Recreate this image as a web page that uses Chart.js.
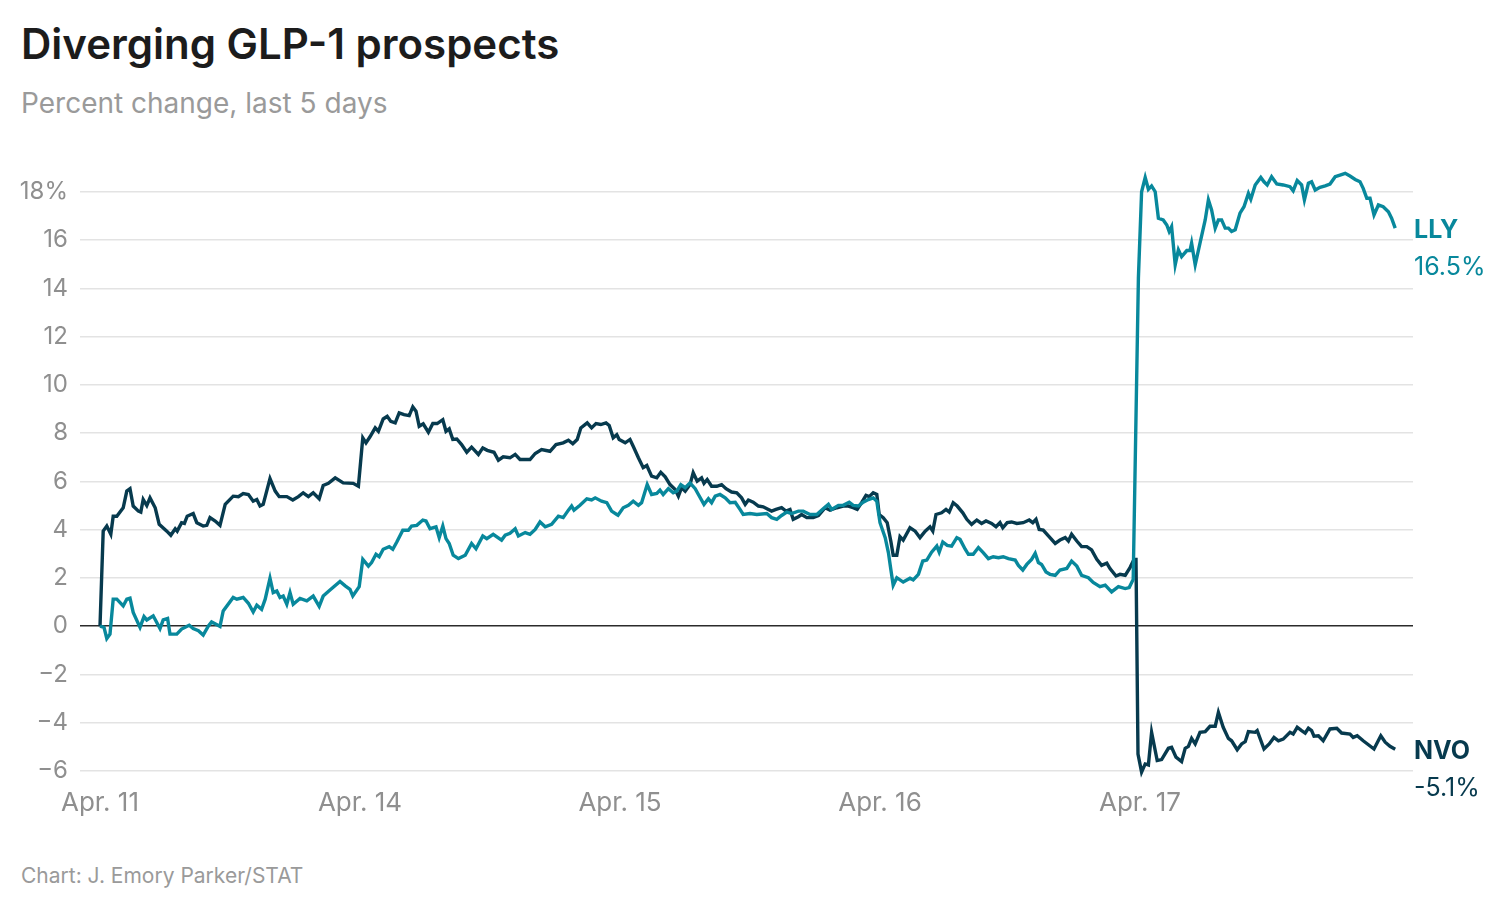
<!DOCTYPE html>
<html>
<head>
<meta charset="utf-8">
<script src="https://cdn.jsdelivr.net/npm/chart.js@4"></script>
<style>
  html, body { margin: 0; padding: 0; background: #fff; }
  body { width: 1506px; height: 912px; position: relative; overflow: hidden; font-family: Inter, "Noto Sans", sans-serif; }
  #title { position: absolute; left: 21px; top: 18px; font-size: 42px; font-weight: 600; color: #1c1c1c; letter-spacing: 0px; }
  #subtitle { position: absolute; left: 21px; top: 86px; font-size: 28px; color: #9a9a9a; }
  #credit { position: absolute; left: 21px; top: 863px; font-size: 21px; color: #9a9a9a; }
  canvas { position: absolute; left: 0; top: 0; }
</style>
</head>
<body>
<div id="title">Diverging GLP-1 prospects</div>
<div id="subtitle">Percent change, last 5 days</div>
<div id="credit">Chart: J. Emory Parker/STAT</div>
<canvas id="chart" width="1506" height="912"></canvas>
<script>
// x = trading hours since Apr. 11 open (6.5 h per session)
const dayLabels = ['Apr. 11', 'Apr. 14', 'Apr. 15', 'Apr. 16', 'Apr. 17'];
const dayStarts = [0, 6.5, 13, 19.5, 26];
const yTicks = [-6, -4, -2, 0, 2, 4, 6, 8, 10, 12, 14, 16, 18];

const seriesNames = ['LLY', 'NVO'];
const endLabels = ['16.5%', '-5.1%'];

const nvoHours = [
  0.00, 0.08, 0.17, 0.27, 0.33, 0.42, 0.58, 0.67, 0.75, 0.83, 0.96, 1.02, 1.08, 1.17, 1.25, 1.38, 1.48, 1.67, 1.77, 1.88,
  1.93, 2.04, 2.11, 2.18, 2.33, 2.42, 2.58, 2.67, 2.75, 2.88, 3.00, 3.13, 3.33, 3.46, 3.58, 3.71, 3.83, 3.92, 4.00, 4.08,
  4.25, 4.38, 4.48, 4.67, 4.82, 4.96, 5.08, 5.21, 5.33, 5.48, 5.58, 5.71, 5.88, 6.08, 6.33, 6.46,
  6.57, 6.65, 6.75, 6.88, 6.96, 7.08, 7.18, 7.27, 7.38, 7.48, 7.60, 7.73, 7.82, 7.90, 7.98, 8.08, 8.21, 8.32, 8.43, 8.57,
  8.65, 8.73, 8.82, 8.92, 9.04, 9.17, 9.29, 9.46, 9.57, 9.68, 9.85, 9.96, 10.08, 10.25, 10.38, 10.50, 10.63, 10.75, 10.88, 11.04,
  11.25, 11.40, 11.58, 11.71, 11.82, 11.93, 12.02, 12.18, 12.29, 12.40, 12.52, 12.65, 12.73, 12.83, 12.92, 12.98,
  13.13, 13.25, 13.33, 13.46, 13.58, 13.67, 13.79, 13.92, 14.02, 14.13, 14.25, 14.38, 14.46, 14.54, 14.63, 14.75, 14.83, 14.93, 15.04, 15.10,
  15.18, 15.29, 15.42, 15.54, 15.65, 15.79, 15.92, 16.04, 16.13, 16.21, 16.33, 16.46, 16.58, 16.71, 16.79, 16.90, 17.04, 17.15, 17.25, 17.33,
  17.46, 17.54, 17.67, 17.83, 17.96, 18.13, 18.25, 18.42, 18.58, 18.71, 18.83, 18.93, 19.04, 19.15, 19.23, 19.33, 19.42,
  19.48, 19.58, 19.68, 19.77, 19.83, 19.92, 20.00, 20.08, 20.25, 20.38, 20.50, 20.63, 20.75, 20.82, 20.90, 21.04, 21.15, 21.23, 21.33, 21.43,
  21.57, 21.67, 21.79, 21.92, 22.04, 22.15, 22.29, 22.40, 22.50, 22.57, 22.68, 22.79, 22.92, 23.08, 23.23, 23.32, 23.40, 23.48, 23.58, 23.71,
  23.88, 24.00, 24.13, 24.21, 24.29, 24.42, 24.54, 24.67, 24.79, 24.92, 25.04, 25.17, 25.25, 25.40, 25.50, 25.63, 25.75, 25.85, 25.90,
  25.95, 26.04, 26.13, 26.21, 26.29, 26.43, 26.54, 26.71, 26.79, 26.90, 27.04, 27.13, 27.21, 27.29, 27.38, 27.50, 27.63, 27.75, 27.88, 27.96,
  28.08, 28.21, 28.29, 28.43, 28.54, 28.63, 28.71, 28.88, 28.93, 29.10, 29.23, 29.35, 29.46, 29.58, 29.75, 29.83, 29.93, 30.04, 30.13, 30.21,
  30.29, 30.35, 30.46, 30.58, 30.75, 30.92, 31.04, 31.25, 31.33, 31.43, 31.58, 31.85, 32.02, 32.13, 32.25, 32.38
];
const nvoPct = [
  0, 3.94, 4.15, 3.81, 4.56, 4.56, 4.91, 5.60, 5.70, 4.98, 4.77, 4.73, 5.25, 5.00, 5.32, 4.91, 4.22, 3.94, 3.77, 4.04,
  3.94, 4.29, 4.26, 4.56, 4.67, 4.29, 4.15, 4.18, 4.50, 4.36, 4.18, 5.05, 5.39, 5.37, 5.50, 5.46, 5.18, 5.25, 4.98, 5.05,
  6.12, 5.60, 5.37, 5.37, 5.23, 5.37, 5.53, 5.37, 5.53, 5.28, 5.83, 5.92, 6.15, 5.94, 5.92, 5.80,
  7.81, 7.60, 7.85, 8.22, 8.08, 8.59, 8.70, 8.49, 8.43, 8.84, 8.77, 8.73, 9.09, 8.91, 8.29, 8.39, 8.04, 8.40, 8.40, 8.56,
  8.08, 8.18, 7.74, 7.76, 7.53, 7.21, 7.42, 7.12, 7.39, 7.29, 7.21, 6.88, 7.02, 6.98, 7.12, 6.91, 6.91, 6.91, 7.16, 7.32,
  7.25, 7.53, 7.60, 7.71, 7.56, 7.74, 8.22, 8.43, 8.22, 8.40, 8.36, 8.43, 8.32, 7.81, 7.94, 7.74,
  7.60, 7.74, 7.46, 6.98, 6.57, 6.66, 6.22, 6.15, 6.38, 6.19, 5.87, 5.67, 5.39, 5.74, 5.60, 5.87, 6.36, 6.01, 6.15, 5.92,
  6.08, 5.80, 5.80, 5.87, 5.70, 5.56, 5.53, 5.32, 5.05, 5.23, 5.14, 4.98, 4.95, 4.84, 4.77, 4.84, 4.91, 4.77, 4.84, 4.43,
  4.54, 4.63, 4.50, 4.50, 4.59, 4.91, 4.81, 4.91, 4.98, 4.98, 4.91, 4.84, 5.12, 5.42, 5.37, 5.53, 5.46,
  4.63, 4.50, 4.29, 3.53, 2.94, 2.94, 3.71, 3.57, 4.08, 3.94, 3.67, 3.94, 4.12, 3.94, 4.63, 4.70, 4.84, 4.73, 5.12, 4.98,
  4.70, 4.43, 4.22, 4.40, 4.26, 4.36, 4.26, 4.12, 4.29, 4.08, 4.29, 4.32, 4.26, 4.29, 4.40, 4.29, 4.43, 4.01, 3.98, 3.74,
  3.43, 3.57, 3.67, 3.53, 3.81, 3.53, 3.30, 3.30, 3.16, 2.77, 2.52, 2.61, 2.39, 2.08, 2.15, 2.11, 2.43, 2.77, 2.77,
  -5.30, -6.05, -5.71, -5.75, -4.40, -5.57, -5.53, -5.06, -5.02, -5.43, -5.61, -5.06, -4.98, -4.65, -4.88, -4.40, -4.37, -4.15, -4.15, -3.57,
  -4.19, -4.65, -4.75, -5.12, -4.88, -4.79, -4.37, -4.40, -4.33, -5.09, -4.88, -4.61, -4.75, -4.68, -4.40, -4.47, -4.19, -4.33, -4.43, -4.23,
  -4.33, -4.56, -4.54, -4.75, -4.26, -4.23, -4.43, -4.47, -4.61, -4.54, -4.75, -5.09, -4.54, -4.81, -4.98, -5.10
];

const llyHours = [
  0.00, 0.10, 0.17, 0.25, 0.33, 0.42, 0.58, 0.67, 0.75, 0.83, 1.00, 1.10, 1.17, 1.33, 1.50, 1.58, 1.69, 1.75, 1.92, 2.04,
  2.23, 2.33, 2.46, 2.58, 2.71, 2.79, 2.90, 3.00, 3.08, 3.33, 3.42, 3.58, 3.71, 3.83, 3.92, 4.04, 4.13, 4.25, 4.33, 4.42,
  4.50, 4.58, 4.67, 4.75, 4.83, 5.00, 5.17, 5.33, 5.48, 5.58, 5.75, 6.00, 6.13, 6.25, 6.32, 6.48,
  6.57, 6.71, 6.79, 6.90, 6.98, 7.08, 7.23, 7.32, 7.42, 7.57, 7.71, 7.79, 7.92, 8.07, 8.15, 8.25, 8.40, 8.48, 8.57, 8.65,
  8.73, 8.83, 8.96, 9.13, 9.29, 9.40, 9.57, 9.67, 9.83, 10.04, 10.13, 10.25, 10.38, 10.46, 10.63, 10.75, 10.88, 11.00, 11.13, 11.29,
  11.46, 11.58, 11.71, 11.79, 11.85, 12.00, 12.17, 12.29, 12.38, 12.54, 12.67, 12.79, 12.92, 12.95,
  13.08, 13.21, 13.33, 13.46, 13.54, 13.68, 13.79, 13.92, 14.00, 14.08, 14.21, 14.33, 14.42, 14.52, 14.63, 14.75, 14.88, 14.96, 15.10, 15.21,
  15.29, 15.38, 15.50, 15.63, 15.75, 15.88, 16.00, 16.08, 16.25, 16.42, 16.67, 16.79, 16.92, 17.04, 17.17, 17.29, 17.46, 17.58, 17.75, 17.92,
  18.08, 18.21, 18.29, 18.46, 18.58, 18.73, 18.83, 18.96, 19.08, 19.21, 19.33, 19.42,
  19.50, 19.63, 19.71, 19.77, 19.83, 19.92, 20.08, 20.25, 20.33, 20.46, 20.57, 20.67, 20.79, 20.92, 20.98, 21.07, 21.18, 21.29, 21.42, 21.50,
  21.63, 21.71, 21.83, 21.96, 22.08, 22.21, 22.33, 22.46, 22.58, 22.71, 22.88, 22.96, 23.07, 23.17, 23.29, 23.38, 23.46, 23.54, 23.65, 23.75,
  23.88, 24.00, 24.17, 24.29, 24.42, 24.54, 24.71, 24.83, 25.00, 25.13, 25.29, 25.46, 25.63, 25.73, 25.83,
  25.96, 26.04, 26.13, 26.21, 26.29, 26.38, 26.46, 26.58, 26.67, 26.73, 26.79, 26.88, 26.96, 27.04, 27.17, 27.25, 27.29, 27.38, 27.50, 27.63,
  27.71, 27.79, 27.88, 27.96, 28.04, 28.13, 28.21, 28.29, 28.38, 28.50, 28.60, 28.71, 28.77, 28.88, 29.02, 29.10, 29.18, 29.29, 29.42, 29.58,
  29.75, 29.83, 29.93, 30.04, 30.11, 30.21, 30.29, 30.38, 30.50, 30.63, 30.75, 30.88, 31.00, 31.13, 31.25, 31.38, 31.50, 31.58, 31.67, 31.75,
  31.85, 31.96, 32.08, 32.21, 32.29, 32.38
];
const llyPct = [
  0, -0.05, -0.51, -0.33, 1.12, 1.12, 0.84, 1.12, 1.16, 0.57, -0.05, 0.40, 0.26, 0.43, -0.10, 0.26, 0.32, -0.33, -0.33, -0.12,
  0.04, -0.10, -0.19, -0.37, 0.01, 0.18, 0.08, -0.01, 0.63, 1.19, 1.12, 1.19, 0.95, 0.59, 0.87, 0.70, 1.12, 1.99, 1.39, 1.46,
  1.19, 1.25, 0.91, 1.39, 0.91, 1.15, 1.05, 1.25, 0.82, 1.25, 1.50, 1.85, 1.67, 1.53, 1.25, 1.64,
  2.77, 2.49, 2.64, 2.98, 2.88, 3.19, 3.30, 3.19, 3.49, 3.98, 3.98, 4.15, 4.18, 4.40, 4.36, 4.04, 4.12, 3.67, 4.15, 3.63,
  3.43, 2.94, 2.80, 2.94, 3.43, 3.21, 3.74, 3.63, 3.81, 3.57, 3.77, 3.85, 4.04, 3.74, 3.88, 3.81, 4.01, 4.32, 4.12, 4.22,
  4.56, 4.50, 4.81, 4.98, 4.81, 5.01, 5.28, 5.23, 5.32, 5.18, 5.12, 4.77, 4.63, 4.60,
  4.91, 5.01, 5.18, 5.01, 5.12, 5.87, 5.46, 5.50, 5.64, 5.46, 5.70, 5.53, 5.60, 5.87, 5.74, 5.94, 5.70, 5.46, 5.05, 5.28,
  5.12, 5.39, 5.46, 5.32, 5.12, 5.14, 4.84, 4.63, 4.67, 4.63, 4.67, 4.50, 4.43, 4.59, 4.73, 4.67, 4.77, 4.77, 4.63, 4.63,
  4.87, 5.05, 4.84, 5.01, 5.01, 5.14, 5.01, 4.98, 5.14, 5.25, 5.32, 5.18,
  4.29, 3.67, 3.05, 2.36, 1.70, 2.01, 1.83, 1.99, 1.92, 2.15, 2.70, 2.74, 3.07, 3.32, 3.07, 3.49, 3.35, 3.32, 3.67, 3.60,
  3.19, 2.98, 2.98, 3.26, 3.05, 2.80, 2.88, 2.84, 2.88, 2.80, 2.74, 2.52, 2.33, 2.56, 2.77, 3.02, 2.64, 2.56, 2.25, 2.15,
  2.11, 2.33, 2.39, 2.70, 2.49, 2.11, 2.01, 1.81, 1.64, 1.70, 1.42, 1.64, 1.56, 1.60, 1.94,
  14.43, 18.01, 18.60, 18.11, 18.25, 18.01, 16.91, 16.84, 16.63, 16.36, 16.56, 14.98, 15.60, 15.32, 15.57, 15.57, 15.88, 14.98, 15.88, 16.84,
  17.67, 17.25, 16.50, 16.84, 16.84, 16.50, 16.50, 16.36, 16.43, 17.12, 17.39, 17.94, 17.70, 18.29, 18.60, 18.42, 18.29, 18.63, 18.33, 18.29,
  18.22, 18.05, 18.47, 18.29, 17.67, 18.36, 18.42, 18.08, 18.19, 18.25, 18.33, 18.63, 18.70, 18.77, 18.66, 18.52, 18.42, 18.15, 17.74, 17.74,
  17.05, 17.46, 17.39, 17.18, 16.91, 16.50
];

const LLY_COLOR = '#08889c';
const NVO_COLOR = '#073a4e';
const FONT = 'Inter, "Noto Sans", sans-serif';

function toPoints(xs, ys) {
  return xs.map((x, i) => ({ x: x, y: ys[i] }));
}

// draws the series name + last value at the right end of each line
const endLabelPlugin = {
  id: 'endLabels',
  afterDraw(chart) {
    const ctx = chart.ctx;
    const x = chart.chartArea.right + 1;
    chart.data.datasets.forEach((ds, i) => {
      const meta = chart.getDatasetMeta(i);
      const last = meta.data[meta.data.length - 1];
      ctx.save();
      ctx.fillStyle = ds.borderColor;
      ctx.textAlign = 'left';
      ctx.textBaseline = 'middle';
      ctx.font = 'bold 25px ' + FONT;
      ctx.fillText(seriesNames[i], x, last.y + 2);
      ctx.font = '25px ' + FONT;
      ctx.fillText(endLabels[i], x, last.y + 39);
      ctx.restore();
    });
  },
};

new Chart(document.getElementById('chart'), {
  type: 'line',
  data: {
    datasets: [
      {
        label: seriesNames[0],
        data: toPoints(llyHours, llyPct),
        borderColor: LLY_COLOR,
        borderWidth: 3.4,
        pointRadius: 0,
        tension: 0,
        fill: false,
      },
      {
        label: seriesNames[1],
        data: toPoints(nvoHours, nvoPct),
        borderColor: NVO_COLOR,
        borderWidth: 3.4,
        pointRadius: 0,
        tension: 0,
        fill: false,
      },
    ],
  },
  options: {
    responsive: false,
    devicePixelRatio: 1,
    animation: false,
    layout: { padding: { top: 163, right: 93, left: 0, bottom: 0 } },
    scales: {
      x: {
        type: 'linear',
        min: -0.5,
        max: 32.825,
        grid: { display: false, drawTicks: false },
        border: { display: false },
        afterBuildTicks: (scale) => { scale.ticks = dayStarts.map((v) => ({ value: v })); },
        afterFit: (scale) => { scale.height = 129; },
        ticks: {
          padding: 5,
          color: '#8f8f8f',
          font: { size: 26, family: FONT },
          maxRotation: 0,
          callback: (v) => dayLabels[dayStarts.indexOf(v)],
        },
      },
      y: {
        min: -6.5,
        max: 19.2,
        afterBuildTicks: (scale) => { scale.ticks = yTicks.map((v) => ({ value: v })); },
        afterFit: (scale) => { scale.width = 80; },
        grid: {
          drawTicks: false,
          color: (c) => (c.tick && c.tick.value === 0 ? '#2b2b2b' : '#e3e3e3'),
          lineWidth: 1.5,
        },
        border: { display: false },
        ticks: {
          padding: 12,
          color: '#8f8f8f',
          font: { size: 24, family: FONT },
          callback: (v) => (v === 18 ? '18%' : v < 0 ? '\u2212' + Math.abs(v) : String(v)),
        },
      },
    },
    plugins: {
      legend: { display: false },
      tooltip: { enabled: false },
    },
  },
  plugins: [endLabelPlugin],
});
</script>
</body>
</html>
